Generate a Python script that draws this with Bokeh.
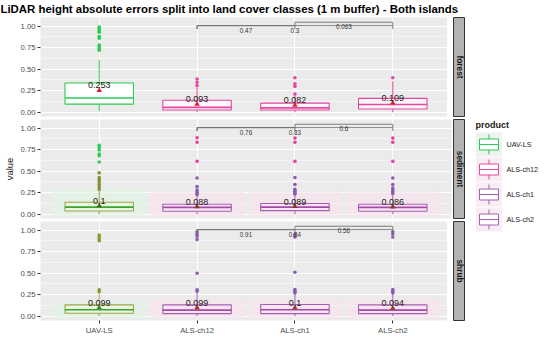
import numpy as np
from bokeh.plotting import figure
from bokeh.layouts import row, column
from bokeh.models import Range1d, FixedTicker, NumeralTickFormatter, Label
from bokeh.core.properties import value
from bokeh.embed import file_html
from bokeh.resources import INLINE

# ---------------- data ----------------
products = ["UAV-LS", "ALS-ch12", "ALS-ch1", "ALS-ch2"]
classes = ["forest", "sediment", "shrub"]
y_ticks = [0.0, 0.25, 0.5, 0.75, 1.0]

forest_wlo = [0.01, 0.0, 0.0, 0.0]
forest_q1 = [0.094, 0.026, 0.026, 0.037]
forest_med = [0.165, 0.056, 0.050, 0.090]
forest_q3 = [0.340, 0.139, 0.105, 0.161]
forest_whi = [0.61, 0.29, 0.19, 0.36]
forest_mean = [0.253, 0.093, 0.082, 0.109]
forest_out_a = [[0.99, 0.97, 0.95, 0.93, 0.88, 0.86, 0.78, 0.76, 0.74, 0.72],
                [0.386, 0.348, 0.31], [0.40, 0.33, 0.30, 0.21], [0.40]]
forest_out_b = [[], [], [], []]
forest_p = ["0.47", "0.3", "0.063"]

sediment_wlo = [0.0, 0.0, 0.0, 0.0]
sediment_q1 = [0.037, 0.034, 0.041, 0.034]
sediment_med = [0.082, 0.079, 0.082, 0.079]
sediment_q3 = [0.139, 0.116, 0.124, 0.116]
sediment_whi = [0.28, 0.22, 0.23, 0.22]
sediment_mean = [0.1, 0.088, 0.089, 0.086]
sediment_out_a = [[0.80, 0.775, 0.745, 0.70, 0.68, 0.607],
                  [0.888, 0.835, 0.614], [0.884, 0.835, 0.614], [0.884, 0.835, 0.614]]
sediment_out_b = [[0.48, 0.427, 0.40, 0.375, 0.345, 0.318, 0.29],
                  [0.42, 0.32, 0.28, 0.26, 0.243, 0.228],
                  [0.427, 0.345, 0.288, 0.266, 0.247, 0.236],
                  [0.42, 0.345, 0.305, 0.28, 0.26, 0.24]]
sediment_p = ["0.76", "0.83", "0.6"]

shrub_wlo = [0.0, 0.0, 0.0, 0.0]
shrub_q1 = [0.034, 0.030, 0.030, 0.030]
shrub_med = [0.075, 0.071, 0.075, 0.071]
shrub_q3 = [0.131, 0.131, 0.135, 0.131]
shrub_whi = [0.26, 0.27, 0.27, 0.26]
shrub_mean = [0.099, 0.099, 0.1, 0.094]
shrub_out_a = [[], [], [], []]
shrub_out_b = [[0.944, 0.92, 0.90, 0.876, 0.307, 0.285],
               [0.98, 0.955, 0.93, 0.89, 0.498, 0.307, 0.29],
               [0.95, 0.92, 0.51, 0.31, 0.29, 0.27],
               [0.98, 0.955, 0.92, 0.31, 0.29, 0.27]]
shrub_p = ["0.91", "0.84", "0.56"]

# comparisons (index pairs into products) and bracket level
comp_a = [1, 1, 2]
comp_b = [2, 3, 3]
comp_level = [0, 0, 1]

# glow (faint background) ranges per class & product
sediment_glow_lo = [-0.03, -0.03, -0.03, -0.03]
sediment_glow_hi = [0.30, 0.26, 0.26, 0.26]
shrub_glow_lo = [-0.02, -0.02, -0.02, -0.02]
shrub_glow_hi = [0.16, 0.19, 0.19, 0.19]

# ---------------- style ----------------
FONT = value("Liberation Sans")
GREEN = "#2ccb52"
PINK = "#e6479f"
PURPLE = "#a560b3"
OLIVE = "#a3a446"

styles = {
    "forest": dict(line=[GREEN, PINK, PINK, PINK], med=[GREEN, PINK, PINK, PINK],
                   fill=["#ffffff", "#fff7fb", "#fff7fb", "#fff7fb"],
                   out_a=[GREEN, PINK, PINK, PINK], out_b=[GREEN, PINK, PINK, PINK],
                   mean=["#e0202a"] * 4, glow=None),
    "sediment": dict(line=[OLIVE, PURPLE, PURPLE, PURPLE], med=["#3da32a", "#a54aa8", "#a54aa8", "#a54aa8"],
                     fill=["#e6f7e6", "#f9e4f1", "#f9e4f1", "#f9e4f1"],
                     out_a=[GREEN, "#e8409c", "#e8409c", "#e8409c"],
                     out_b=["#8c8f3a", "#8a5bb0", "#8a5bb0", "#8a5bb0"],
                     mean=["#4d6b20", "#7d3d20", "#7d3d20", "#7d3d20"],
                     glow=["#dff5e3", "#fbe3ef", "#fbe3ef", "#fbe3ef"]),
    "shrub": dict(line=[OLIVE, PURPLE, PURPLE, PURPLE], med=["#3da32a", "#a54aa8", "#a54aa8", "#a54aa8"],
                  fill=["#e6f7e6", "#f9e4f1", "#f9e4f1", "#f9e4f1"],
                  out_a=[GREEN, PINK, PINK, PINK],
                  out_b=["#8c9a2e", "#8a5bb0", "#8a5bb0", "#8a5bb0"],
                  mean=["#3f8a22", "#9a3a20", "#9a3a20", "#9a3a20"],
                  glow=["#dff5e3", "#fbe3ef", "#fbe3ef", "#fbe3ef"]),
}

data = {
    "forest": (forest_wlo, forest_q1, forest_med, forest_q3, forest_whi, forest_mean,
               forest_out_a, forest_out_b, forest_p, None, None),
    "sediment": (sediment_wlo, sediment_q1, sediment_med, sediment_q3, sediment_whi, sediment_mean,
                 sediment_out_a, sediment_out_b, sediment_p, sediment_glow_lo, sediment_glow_hi),
    "shrub": (shrub_wlo, shrub_q1, shrub_med, shrub_q3, shrub_whi, shrub_mean,
              shrub_out_a, shrub_out_b, shrub_p, shrub_glow_lo, shrub_glow_hi),
}

FRAME_W = 411
FRAME_H = 99
LEFT = 34
GAP = 3
BOTTOM_AXIS = 14
BOX_W = 0.7

pos = np.arange(1, len(products) + 1)


def make_panel(cls, bottom):
    wlo, q1, med, q3, whi, mean, out_a, out_b, pv, glo, ghi = data[cls]
    st = styles[cls]
    p = figure(frame_width=FRAME_W, frame_height=FRAME_H, output_backend="svg",
               toolbar_location=None, x_range=Range1d(0.4, 4.6), y_range=Range1d(-0.05, 1.10),
               x_axis_location="below" if bottom else None,
               min_border_left=LEFT, min_border_right=2, min_border_top=0,
               min_border_bottom=BOTTOM_AXIS if bottom else GAP)
    p.background_fill_color = "#ebebeb"
    p.border_fill_color = "white"
    p.outline_line_color = None
    # grid
    p.ygrid.ticker = FixedTicker(ticks=y_ticks,
                                 minor_ticks=[0.125, 0.375, 0.625, 0.875])
    p.ygrid.grid_line_color = "white"
    p.ygrid.grid_line_width = 1.1
    p.ygrid.minor_grid_line_color = "white"
    p.ygrid.minor_grid_line_width = 0.5
    p.xgrid.ticker = FixedTicker(ticks=list(pos))
    p.xgrid.grid_line_color = "white"
    p.xgrid.grid_line_width = 1.1
    # y axis
    ya = p.yaxis[0]
    ya.ticker = FixedTicker(ticks=y_ticks)
    ya.formatter = NumeralTickFormatter(format="0.00")
    ya.axis_line_color = None
    ya.major_tick_out = 3
    ya.major_tick_in = 0
    ya.minor_tick_line_color = None
    ya.major_tick_line_color = "#333333"
    ya.major_label_text_color = "#4d4d4d"
    ya.major_label_text_font = "Liberation Sans"
    ya.major_label_text_font_size = "7.7px"
    ya.major_label_standoff = 2
    if cls == "sediment":
        ya.axis_label = "value"
        ya.axis_label_text_font = "Liberation Sans"
        ya.axis_label_text_font_style = "normal"
        ya.axis_label_text_font_size = "9.5px"
        ya.axis_label_text_color = "#1a1a1a"
        ya.axis_label_standoff = 3
    if bottom:
        xa = p.xaxis[0]
        xa.ticker = FixedTicker(ticks=list(pos))
        xa.major_label_overrides = {int(i): n for i, n in zip(pos, products)}
        xa.axis_line_color = None
        xa.major_tick_out = 3
        xa.major_tick_in = 0
        xa.minor_tick_line_color = None
        xa.major_tick_line_color = "#333333"
        xa.major_label_text_color = "#4d4d4d"
        xa.major_label_text_font = "Liberation Sans"
        xa.major_label_text_font_size = "7.7px"
        xa.major_label_standoff = 2

    # glow
    if glo is not None:
        p.vbar(x=pos, width=0.95, bottom=glo, top=ghi, fill_color=st["glow"],
               fill_alpha=0.6, line_color=None)
    # whiskers
    p.segment(x0=pos, y0=wlo, x1=pos, y1=q1, line_color=st["line"], line_width=1)
    p.segment(x0=pos, y0=q3, x1=pos, y1=whi, line_color=st["line"], line_width=1)
    # outliers
    for outs, cols in ((out_a, st["out_a"]), (out_b, st["out_b"])):
        xs, ys, cs = [], [], []
        for i, vals in enumerate(outs):
            xs += [pos[i]] * len(vals)
            ys += vals
            cs += [cols[i]] * len(vals)
        if xs:
            p.scatter(x=xs, y=ys, size=3.6, fill_color=cs, line_color=None)
    # boxes
    p.vbar(x=pos, width=BOX_W, bottom=q1, top=q3, fill_color=st["fill"],
           line_color=st["line"], line_width=1.1)
    p.segment(x0=pos - BOX_W / 2, y0=med, x1=pos + BOX_W / 2, y1=med,
              line_color=st["med"], line_width=1.6)
    # mean
    p.scatter(x=pos, y=mean, marker="triangle", size=5.5, fill_color=st["mean"], line_color=None)
    p.text(x=pos, y=mean, text=[f"{m:g}" for m in mean], text_align="center",
           text_baseline="bottom", y_offset=-2, text_font=FONT, text_font_size="9px",
           text_color="#1a1a1a")
    # brackets
    levels = [1.005, 1.045]
    tick = 0.04
    for a, b, lv, lab in zip(comp_a, comp_b, comp_level, pv):
        y = levels[lv]
        xa_, xb_ = pos[a], pos[b]
        p.segment(x0=[xa_, xa_, xb_], y0=[y, y, y], x1=[xb_, xa_, xb_], y1=[y, y - tick, y - tick],
                  line_color="#6e6e6e", line_width=0.9)
        p.text(x=[(xa_ + xb_) / 2], y=[y - 0.055], text=[lab], text_align="center",
               text_baseline="middle", text_font=FONT, text_font_size="6.3px", text_color="#333333")
    return p


def make_strip(cls, bottom):
    s = figure(frame_width=12, frame_height=FRAME_H, output_backend="svg", toolbar_location=None,
               x_range=Range1d(0, 1), y_range=Range1d(0, 1), x_axis_location=None,
               y_axis_location=None, min_border_left=0, min_border_right=0, min_border_top=0,
               min_border_bottom=BOTTOM_AXIS if bottom else GAP)
    s.background_fill_color = "#b3b3b3"
    s.border_fill_color = "white"
    s.outline_line_color = "#333333"
    s.outline_line_width = 1
    s.grid.visible = False
    s.text(x=[0.5], y=[0.5], text=[cls], angle=-np.pi / 2, text_align="center",
           text_baseline="middle", text_font=FONT, text_font_style="bold",
           text_font_size="8.3px", text_color="#1a1a1a")
    return s


panels = [make_panel(c, c == classes[-1]) for c in classes]
strips = [make_strip(c, c == classes[-1]) for c in classes]

# legend figure
LEG_W = 75
LEG_H = FRAME_H * 3 + GAP * 2 + BOTTOM_AXIS
leg = figure(width=LEG_W, height=LEG_H, output_backend="svg", toolbar_location=None,
             x_range=Range1d(0, LEG_W), y_range=Range1d(0, LEG_H), x_axis_location=None,
             y_axis_location=None, min_border=0)
leg.outline_line_color = None
leg.grid.visible = False
leg_line = [GREEN, PINK, PURPLE, PURPLE]
leg_bg = ["#edf3ee", "#f9edf4", "#f9edf4", "#f9edf4"]
title_y = LEG_H - 107
key_y = title_y - 20 - 25 * np.arange(len(products))
key_x = np.full(len(products), 23.5)
leg.text(x=[10], y=[title_y], text=["product"], text_baseline="middle", text_font=FONT,
         text_font_style="bold", text_font_size="9px", text_color="#1a1a1a")
leg.rect(x=key_x, y=key_y, width=26, height=24, fill_color=leg_bg, line_color=None)
leg.segment(x0=key_x, y0=key_y - 10, x1=key_x, y1=key_y + 10, line_color=leg_line, line_width=1)
leg.rect(x=key_x, y=key_y, width=19, height=11, fill_color="white", line_color=leg_line, line_width=1)
leg.segment(x0=key_x - 9.5, y0=key_y, x1=key_x + 9.5, y1=key_y, line_color=leg_line, line_width=1)
leg.text(x=key_x + 17.5, y=key_y, text=products, text_baseline="middle", text_font=FONT,
         text_font_size="7.2px", text_color="#1a1a1a")

# title figure
TOTAL_W = LEFT + FRAME_W + 2 + 12 + LEG_W
tfig = figure(width=TOTAL_W, height=17, output_backend="svg", toolbar_location=None,
              x_range=Range1d(0, 1), y_range=Range1d(0, 1), x_axis_location=None,
              y_axis_location=None, min_border=0)
tfig.outline_line_color = None
tfig.grid.visible = False
tfig.add_layout(Label(x=0, y=0.5, x_units="data", y_units="data",
                      text="LiDAR height absolute errors split into land cover classes (1 m buffer) - Both islands",
                      text_font="Liberation Sans", text_font_style="bold", text_font_size="11.4px",
                      text_baseline="middle", text_color="#000000"))

layout = column(tfig, row(column(*panels), column(*strips), leg))

open("out.html", "w").write(file_html(layout, INLINE))
